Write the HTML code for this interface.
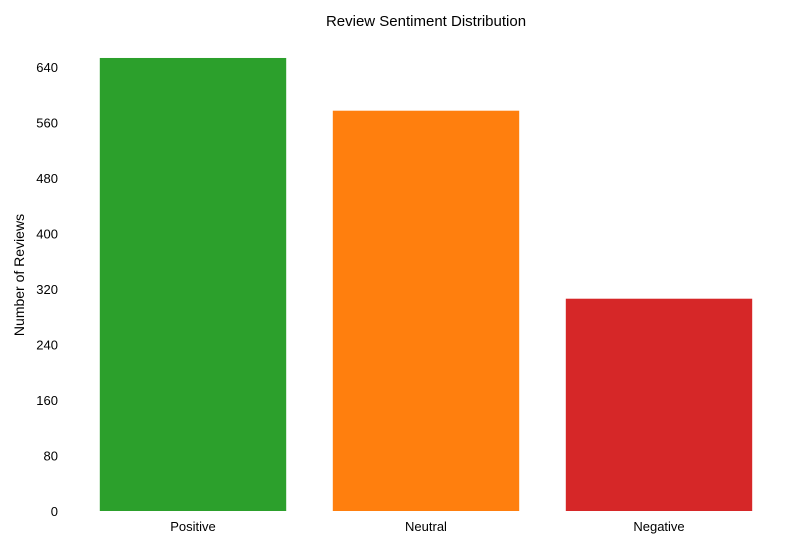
<!DOCTYPE html>
<html><head><meta charset="utf-8"><style>
html,body{margin:0;padding:0;background:#fff;}
svg text{font-family:"Liberation Sans",Arial,sans-serif;fill:#000;}
</style></head><body>
<svg id="chart" width="800" height="550" xmlns="http://www.w3.org/2000/svg">
<text x="426" y="26" text-anchor="middle" font-size="15">Review Sentiment Distribution</text>
<text transform="translate(24,275) rotate(-90)" text-anchor="middle" font-size="14">Number of Reviews</text>
<g id="bars"></g><g id="yticks"></g><g id="xticks"></g>
</svg>
<script>
const categories=["Positive","Neutral","Negative"];
const values=[653,577,306];
const colors=["#2ca02c","#ff7f0e","#d62728"];
const yTicks=[0,80,160,240,320,400,480,560,640];
const y0=511, pxPerUnit=444/640;
function y(v){return y0-v*pxPerUnit;}
const xLeft=53.2, band=233;
function x(i){return xLeft+(i+0.6)*band;}
const NS="http://www.w3.org/2000/svg";
const bars=document.getElementById('bars');
categories.forEach((c,i)=>{
  const r=document.createElementNS(NS,'rect');
  
  
  r.setAttribute('x',x(i)-0.4*band);r.setAttribute('width',0.8*band);
  r.setAttribute('y',y(values[i]));r.setAttribute('height',y0-y(values[i]));
  r.setAttribute('fill',colors[i]);bars.appendChild(r);
  const t=document.createElementNS(NS,'text');
  
  
  t.setAttribute('x',x(i));t.setAttribute('y',531);t.setAttribute('text-anchor','middle');t.setAttribute('font-size','13');
  t.textContent=c;document.getElementById('xticks').appendChild(t);
});
yTicks.forEach(v=>{
  const t=document.createElementNS(NS,'text');
  
  
  t.setAttribute('x',58);t.setAttribute('y',y(v)+5);t.setAttribute('text-anchor','end');t.setAttribute('font-size','13');
  t.textContent=v;document.getElementById('yticks').appendChild(t);
});
</script>
</body></html>
